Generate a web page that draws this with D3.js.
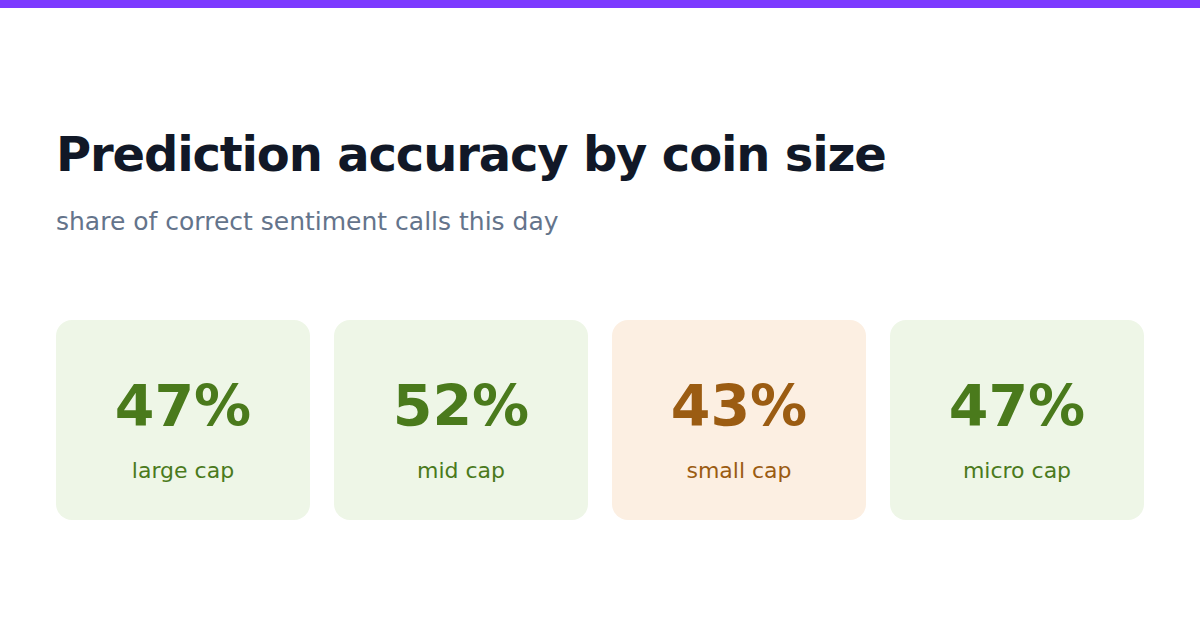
<!DOCTYPE html>
<html>
<head>
<meta charset="utf-8">
<script src="https://cdn.jsdelivr.net/npm/d3@7"></script>
<style>
  body { margin: 0; background: #fff; }
  svg { display: block; font-family: "DejaVu Sans", sans-serif; }
</style>
</head>
<body>
<div id="chart"></div>
<script>
var categories = ["large cap", "mid cap", "small cap", "micro cap"];
var accuracy = [47, 52, 43, 47];
var threshold = 45;

var w = 1200,
  h = 630;

var svg = d3.select("#chart").append("svg").attr("width", w).attr("height", h);

// accent bar on top
svg.append("rect").attr("x", 0).attr("y", 0).attr("width", w).attr("height", 8).style("fill", "#7c3aff");

svg
  .append("text")
  .attr("x", 56)
  .attr("y", 171)
  .text("Prediction accuracy by coin size")
  .style("font-size", "48px")
  .style("font-weight", "bold")
  .style("letter-spacing", "-1.15px")
  .style("fill", "#111827");

svg
  .append("text")
  .attr("x", 56)
  .attr("y", 230)
  .text("share of correct sentiment calls this day")
  .style("font-size", "25px")
  .style("fill", "#64748b");

var xScale = d3
  .scaleBand()
  .domain(categories)
  .range([56, 1144])
  .paddingInner(24 / 278)
  .paddingOuter(0);

var cards = svg
  .selectAll("g.card")
  .data(categories)
  .enter()
  .append("g")
  .attr("class", "card")
  .attr("transform", function (d) {
    return "translate(" + xScale(d) + ",320)";
  });

function good(i) {
  return accuracy[i] >= threshold;
}

cards
  .append("rect")
  .attr("width", xScale.bandwidth())
  .attr("height", 200)
  .attr("rx", 16)
  .style("fill", function (d, i) {
    return good(i) ? "#eef6e7" : "#fcefe2";
  });

cards
  .append("text")
  .attr("x", xScale.bandwidth() / 2)
  .attr("y", 106)
  .attr("text-anchor", "middle")
  .text(function (d, i) {
    return accuracy[i] + "%";
  })
  .style("font-size", "57px")
  .style("font-weight", "bold")
  .style("fill", function (d, i) {
    return good(i) ? "#4a7a1c" : "#9b5c12";
  });

cards
  .append("text")
  .attr("x", xScale.bandwidth() / 2)
  .attr("y", 158)
  .attr("text-anchor", "middle")
  .text(function (d) {
    return d;
  })
  .style("font-size", "22px")
  .style("fill", function (d, i) {
    return good(i) ? "#4a7a1c" : "#9b5c12";
  });
</script>
</body>
</html>
